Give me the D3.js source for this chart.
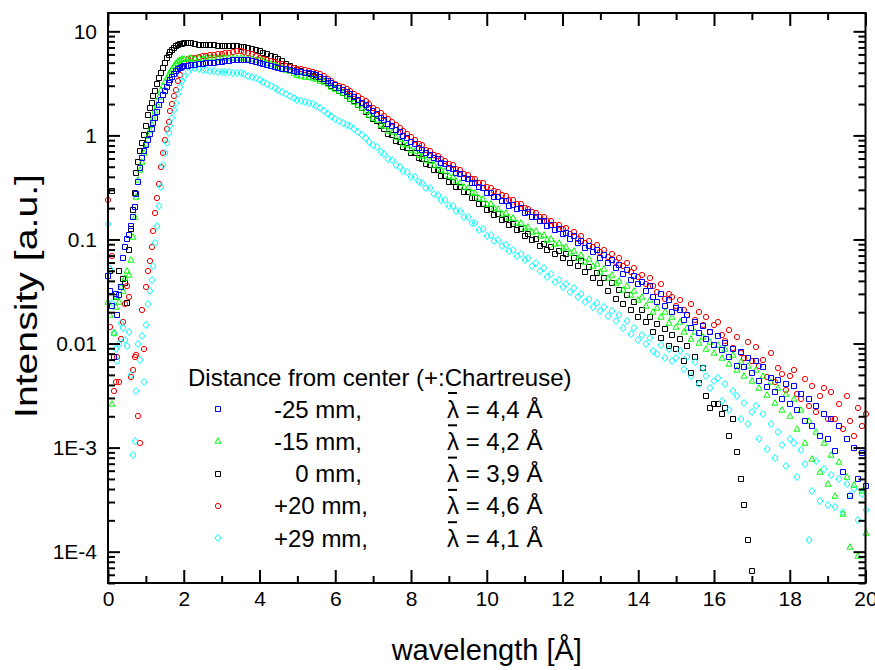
<!DOCTYPE html>
<html>
<head>
<meta charset="utf-8">
<script src="https://cdn.jsdelivr.net/npm/d3@7"></script>
<style>
	body { margin: 0; background: #fff; }
	svg text { font-family: "Liberation Sans", Arial, Helvetica, sans-serif; fill: #000; }
</style>
</head>
<body>
<svg id="chart" width="875" height="670"></svg>
<script>
// wavelength grid [Å] (finer steps below 2 Å)
const wavelength = [
	0,0.05,0.1,0.15,0.2,0.25,0.3,0.35,0.4,0.45,0.5,0.55,0.6,0.65,0.7,0.75,0.8,0.85,0.9,0.95,
	1,1.05,1.1,1.15,1.2,1.25,1.3,1.35,1.4,1.45,1.5,1.55,1.6,1.65,1.7,1.75,1.8,1.85,1.9,1.95,2,
	2.1,2.2,2.3,2.4,2.5,2.6,2.7,2.8,2.9,3,
	3.1,3.2,3.3,3.4,3.5,3.6,3.7,3.8,3.9,4,
	4.1,4.2,4.3,4.4,4.5,4.6,4.7,4.8,4.9,5,
	5.1,5.2,5.3,5.4,5.5,5.6,5.7,5.8,5.9,6,
	6.1,6.2,6.3,6.4,6.5,6.6,6.7,6.8,6.9,7,
	7.1,7.2,7.3,7.4,7.5,7.6,7.7,7.8,7.9,8,
	8.1,8.2,8.3,8.4,8.5,8.6,8.7,8.8,8.9,9,
	9.1,9.2,9.3,9.4,9.5,9.6,9.7,9.8,9.9,10,
	10.1,10.2,10.3,10.4,10.5,10.6,10.7,10.8,10.9,11,
	11.1,11.2,11.3,11.4,11.5,11.6,11.7,11.8,11.9,12,
	12.1,12.2,12.3,12.4,12.5,12.6,12.7,12.8,12.9,13,
	13.1,13.2,13.3,13.4,13.5,13.6,13.7,13.8,13.9,14,
	14.1,14.2,14.3,14.4,14.5,14.6,14.7,14.8,14.9,15,
	15.1,15.2,15.3,15.4,15.5,15.6,15.7,15.8,15.9,16,
	16.1,16.2,16.3,16.4,16.5,16.6,16.7,16.8,16.9,17,
	17.1,17.2,17.3,17.4,17.5,17.6,17.7,17.8,17.9,18,
	18.1,18.2,18.3,18.4,18.5,18.6,18.7,18.8,18.9,19,
	19.1,19.2,19.3,19.4,19.5,19.6,19.7,19.8,19.9,20
];

// intensity [a.u.], one value per wavelength
const intensityM25 = [
	0.045,0.032,0.023,0.0074,0.03,0.0186,0.0295,0.035,0.066,0.085,0.102,0.11,0.135,0.166,0.204,0.275,0.355,0.49,0.6,0.71,
	0.81,0.91,1.02,1.15,1.32,1.48,1.66,1.95,2.19,2.45,2.7,2.95,3.16,3.4,3.63,3.9,4.17,4.37,4.47,4.57,4.62,
	4.68,4.73,4.79,4.84,4.9,4.93,4.97,5.0,5.04,5.07,
	5.13,5.19,5.25,5.31,5.32,5.3,5.25,5.19,5.1,5.01,
	4.9,4.79,4.68,4.57,4.47,4.39,4.3,4.23,4.15,4.07,
	4.03,3.98,3.94,3.87,3.8,3.67,3.51,3.35,3.16,3.02,
	2.88,2.75,2.63,2.48,2.34,2.21,2.07,1.95,1.82,1.7,
	1.6,1.46,1.41,1.28,1.23,1.12,1.07,0.98,0.94,0.86,
	0.83,0.76,0.73,0.67,0.655,0.6,0.59,0.54,0.53,0.485,
	0.475,0.44,0.43,0.39,0.385,0.352,0.345,0.317,0.31,0.282,
	0.28,0.256,0.256,0.234,0.234,0.212,0.216,0.196,0.2,0.18,
	0.182,0.165,0.166,0.15,0.152,0.136,0.139,0.124,0.127,0.113,
	0.116,0.102,0.107,0.093,0.097,0.083,0.087,0.075,0.079,0.067,
	0.071,0.059,0.064,0.053,0.057,0.047,0.051,0.041,0.045,0.037,
	0.039,0.032,0.036,0.028,0.025,0.03,0.023,0.026,0.02,0.022,
	0.021,0.017,0.019,0.014,0.016,0.0125,0.0148,0.011,0.0128,0.0096,
	0.0118,0.0086,0.0102,0.0074,0.0088,0.0061,0.0083,0.0059,0.0073,0.0052,
	0.0068,0.0044,0.0059,0.0038,0.0047,0.0034,0.0045,0.0029,0.0041,0.0026,
	0.0039,0.0023,0.0033,0.0018,0.0029,0.0016,0.0025,0.0013,0.0021,0.0012,
	0.0019,0.00092,0.0016,0.00058,0.0012,0.00034,0.001,0.0005,0.00088,0.00043
];

const intensityM15 = [
	0.025,0.0186,0.0026,0.0126,0.0224,0.028,0.025,0.035,0.032,0.043,0.05,0.046,0.063,0.105,0.166,0.257,0.37,0.47,0.56,0.68,
	0.83,0.98,1.12,1.26,1.48,1.7,1.95,2.34,2.75,3.0,3.27,3.55,3.8,4.07,4.37,4.68,5.0,5.19,5.3,5.37,5.43,
	5.42,5.5,5.44,5.52,5.47,5.55,5.5,5.58,5.52,5.6,
	5.55,5.6,5.57,5.6,5.56,5.5,5.45,5.38,5.3,5.25,
	5.13,5.0,4.9,4.73,4.57,4.42,4.27,4.12,3.98,3.8,
	3.73,3.67,3.61,3.55,3.47,3.35,3.24,3.09,2.95,2.82,
	2.69,2.54,2.4,2.24,2.09,1.95,1.82,1.7,1.58,1.48,
	1.4,1.27,1.22,1.1,1.07,0.96,0.93,0.83,0.81,0.72,
	0.71,0.65,0.64,0.58,0.57,0.52,0.51,0.46,0.45,0.41,
	0.4,0.365,0.352,0.32,0.315,0.282,0.278,0.248,0.245,0.218,
	0.218,0.199,0.197,0.177,0.178,0.161,0.161,0.145,0.145,0.13,
	0.133,0.119,0.121,0.108,0.111,0.098,0.101,0.09,0.092,0.082,
	0.085,0.074,0.078,0.067,0.071,0.061,0.065,0.055,0.058,0.049,
	0.052,0.043,0.046,0.038,0.04,0.033,0.036,0.029,0.032,0.026,
	0.028,0.023,0.026,0.02,0.022,0.018,0.02,0.0158,0.018,0.0145,
	0.016,0.0128,0.0142,0.011,0.0128,0.0102,0.0116,0.0089,0.0104,0.0082,
	0.0097,0.0072,0.0088,0.0063,0.0078,0.0056,0.0067,0.0049,0.0061,0.0044,
	0.0056,0.0037,0.0049,0.0032,0.0043,0.0027,0.0037,0.0023,0.0033,0.002,
	0.0029,0.0015,0.0023,0.0011,0.0018,0.00078,0.0014,0.00058,0.0011,0.00045,
	0.00085,0.00034,0.00072,0.00023,0.00052,0.00011,0.00044,0.00009,0.00038,0.00015
];

const intensity0 = [
	null,0.05,0.295,null,0.028,null,0.05,0.035,0.042,0.038,0.0245,0.079,0.126,0.19,0.28,0.44,0.56,0.71,0.85,1.0,
	1.23,1.58,1.82,2.04,2.4,2.7,3.09,3.55,3.98,4.47,5.0,5.5,5.9,6.3,6.6,6.9,7.16,7.33,7.5,7.62,7.73,
	7.8,7.76,7.59,7.45,7.38,7.35,7.33,7.31,7.28,7.24,
	7.24,7.21,7.19,7.18,7.13,7.05,6.92,6.76,6.61,6.46,
	6.24,6.03,5.82,5.62,5.37,5.13,4.9,4.68,4.47,4.27,
	4.14,4.01,3.89,3.76,3.63,3.47,3.31,3.16,3.0,2.85,
	2.69,2.54,2.4,2.26,2.14,1.98,1.83,1.69,1.56,1.45,
	1.36,1.22,1.16,1.03,1.0,0.89,0.87,0.77,0.76,0.67,
	0.67,0.6,0.59,0.53,0.525,0.47,0.46,0.41,0.405,0.36,
	0.358,0.32,0.318,0.283,0.283,0.25,0.25,0.219,0.22,0.193,
	0.195,0.172,0.175,0.153,0.157,0.137,0.141,0.122,0.126,0.109,
	0.114,0.098,0.101,0.087,0.091,0.079,0.084,0.073,0.078,0.067,
	0.072,0.06,0.067,0.055,0.062,0.049,0.054,0.043,0.048,0.038,
	0.043,0.032,0.038,0.027,0.033,0.024,0.029,0.021,0.025,0.018,
	0.021,0.016,0.018,0.013,0.0155,0.0112,0.0138,0.0095,0.012,0.0088,
	0.011,0.0068,0.0095,0.0052,0.0074,0.0042,0.0058,0.0031,0.0024,0.0026,
	0.0026,0.0021,0.0024,0.0013,0.0019,0.0009,0.0005,0.00028,0.00013,0.000065,
	null,null,null,null,null,null,null,null,null,null,
	null,null,null,null,null,null,null,null,null,null,
	null,null,null,null,null,null,null,null,null,null
];

const intensityP20 = [
	0.24,0.0145,0.07,0.0035,0.0043,0.0075,0.0043,0.011,0.016,0.024,0.036,0.028,0.0048,0.0056,0.0074,0.0078,0.002,0.0011,0.021,0.0089,
	0.035,0.05,0.062,0.085,0.12,0.18,0.25,0.34,0.5,0.68,0.91,1.15,1.35,1.7,2.0,2.4,2.75,3.3,3.8,4.4,5.0,
	5.45,5.55,5.6,5.7,5.8,5.8,5.9,5.95,6.0,6.1,
	6.15,6.25,6.3,6.4,6.4,6.3,6.15,6.0,5.8,5.6,
	5.45,5.3,5.2,5.05,4.9,4.8,4.6,4.5,4.4,4.35,
	4.3,4.25,4.2,4.1,4.0,3.85,3.7,3.5,3.35,3.15,
	3.0,2.9,2.8,2.65,2.5,2.4,2.25,2.15,2.0,1.85,
	1.75,1.65,1.55,1.45,1.35,1.26,1.17,1.1,1.02,0.955,
	0.91,0.83,0.8,0.73,0.71,0.65,0.64,0.59,0.57,0.53,
	0.52,0.48,0.465,0.43,0.415,0.385,0.38,0.35,0.345,0.32,
	0.315,0.29,0.285,0.265,0.26,0.24,0.238,0.22,0.218,0.2,
	0.198,0.182,0.181,0.165,0.166,0.15,0.152,0.137,0.139,0.125,
	0.128,0.112,0.118,0.101,0.108,0.093,0.097,0.084,0.088,0.075,
	0.079,0.068,0.072,0.061,0.066,0.055,0.059,0.049,0.053,0.044,
	0.046,0.037,0.043,0.036,0.031,0.037,0.027,0.03,0.028,0.023,
	0.026,0.021,0.019,0.024,0.017,0.02,0.015,0.018,0.013,0.015,
	0.016,0.012,0.0105,0.0135,0.009,0.0115,0.0082,0.0072,0.0104,0.0068,
	0.0092,0.0061,0.0069,0.0048,0.0081,0.0043,0.0058,0.0051,0.0036,0.0049,
	0.0056,0.0033,0.0029,0.0046,0.0025,0.0039,0.0022,0.0031,0.0037,0.0019,
	0.0034,0.0019,0.0026,0.0015,0.0031,0.0018,0.0013,0.0024,0.0016,0.0021
];

const intensityP29 = [
	0.141,0.052,0.0245,0.0126,0.0089,0.0068,0.01,0.0158,0.0141,0.0107,0.0095,0.0129,0.005,0.00085,0.00115,0.0035,0.01,0.0069,0.0117,0.0043,
	0.015,0.024,0.032,0.041,0.056,0.093,0.135,0.21,0.32,0.52,0.68,0.85,1.05,1.23,1.46,1.74,2.04,2.51,2.95,3.31,3.63,
	4.07,4.42,4.4,4.35,4.29,4.22,4.17,4.13,4.1,4.07,
	4.06,4.04,4.02,4.0,3.96,3.87,3.76,3.65,3.53,3.41,
	3.27,3.14,3.01,2.88,2.75,2.63,2.51,2.4,2.29,2.19,
	2.14,2.09,2.04,2.0,1.91,1.82,1.72,1.62,1.53,1.45,
	1.38,1.32,1.26,1.22,1.16,1.08,1.01,0.94,0.87,0.81,
	0.77,0.69,0.665,0.59,0.575,0.515,0.5,0.452,0.445,0.4,
	0.395,0.355,0.348,0.312,0.31,0.275,0.27,0.24,0.24,0.212,
	0.21,0.187,0.186,0.164,0.164,0.143,0.143,0.124,0.125,0.107,
	0.11,0.096,0.099,0.086,0.089,0.077,0.08,0.069,0.072,0.063,
	0.066,0.056,0.059,0.05,0.053,0.044,0.047,0.039,0.041,0.035,
	0.037,0.031,0.034,0.028,0.03,0.025,0.027,0.0225,0.0245,0.0205,
	0.0225,0.0184,0.0205,0.0163,0.0188,0.0142,0.0163,0.0124,0.0142,0.0108,
	0.0122,0.0098,0.0112,0.0085,0.0079,0.0097,0.0073,0.0088,0.0068,0.0072,
	0.0084,0.0057,0.0074,0.0049,0.0066,0.0041,0.0058,0.0049,0.0037,0.0044,
	0.0047,0.0028,0.0041,0.0023,0.0035,0.0031,0.0019,0.0027,0.0017,0.0022,
	0.0025,0.0012,0.0021,0.00098,0.0017,0.0008,0.0014,0.00105,0.00066,0.0012,
	0.0011,0.00052,0.00095,0.0007,0.00013,0.00038,0.00075,0.00031,0.00062,0.00028,
	0.00055,0.00027,0.0005,0.00024,0.00045,0.00035,0.0004,0.0002,0.00036,0.00025
];

// legend texts
const legendTitle = 'Distance from center (+:Chartreuse)';
const distances = ['-25 mm,', '-15 mm,', '0 mm,', '+20 mm,', '+29 mm,'];
const meanWavelength = ['4,4', '4,2', '3,9', '4,6', '4,1'];

// axis ticks
const xTicks = [0, 2, 4, 6, 8, 10, 12, 14, 16, 18, 20];
const xMinorTicks = [1, 3, 5, 7, 9, 11, 13, 15, 17, 19];
const yTicks = [10, 1, 0.1, 0.01, 1e-3, 1e-4];
const yTickLabels = ['10', '1', '0.1', '0.01', '1E-3', '1E-4'];

const plot = { left: 108, right: 865.5, top: 13, bottom: 583 };

// marker shapes, stroked only
const shapes = {
	square: 'M-2.5,-2.5h5v5h-5Z',
	triangle: 'M0,-3.3L3,2.2H-3Z',
	circle: d3.symbol(d3.symbolCircle, 22)(),
	diamond: 'M0,-3.6L3,0L0,3.6L-3,0Z'
};

// legend order
const series = [
	{ values: intensityM25, color: '#0000ff', shape: 'square' },
	{ values: intensityM15, color: '#00ff00', shape: 'triangle' },
	{ values: intensity0, color: '#000000', shape: 'square' },
	{ values: intensityP20, color: '#ff0000', shape: 'circle' },
	{ values: intensityP29, color: '#00ffff', shape: 'diamond' }
];
series.forEach((s, i) => { s.label = distances[i]; s.mean = meanWavelength[i]; });

// paint order: blue on top
const drawOrder = [2, 3, 4, 1, 0];

const svg = d3.select('#chart');

const x = d3.scaleLinear().domain([0, 20]).range([plot.left, plot.right]);
const y = d3.scaleLog().domain([5e-5, 15]).range([plot.bottom, plot.top]);

// data points
const pts = svg.append('g').attr('class', 'points');
drawOrder.forEach(idx => {
	const s = series[idx];
	const data = wavelength
		.map((w, i) => [w, s.values[i]])
		.filter(d => d[1] != null && d[1] > 0);
	pts.append('g')
		.selectAll('path')
		.data(data)
		.join('path')
		.attr('d', shapes[s.shape])
		.attr('transform', d => `translate(${Math.round(x(d[0]))},${Math.round(y(d[1]))})`)
		.attr('fill', 'none')
		.attr('stroke', s.color)
		.attr('stroke-width', 1);
});

// frame
svg.append('rect')
	.attr('x', plot.left)
	.attr('y', plot.top)
	.attr('width', plot.right - plot.left)
	.attr('height', plot.bottom - plot.top)
	.attr('fill', 'none')
	.attr('stroke', '#000')
	.attr('stroke-width', 2);

const yMinor = y.ticks().filter(v => !yTicks.some(t => Math.abs(t - v) / t < 1e-6));

function styleAxis(g) {
	g.select('.domain').remove();
	g.selectAll('.tick line').attr('stroke', '#000').attr('stroke-width', 2);
	g.selectAll('.tick text').attr('font-size', 21).attr('fill', '#000');
}

// bottom
svg.append('g')
	.attr('transform', `translate(0,${plot.bottom})`)
	.call(d3.axisBottom(x).tickValues(xTicks).tickSize(-13).tickPadding(8).tickFormat(d3.format('d')))
	.call(styleAxis);
svg.append('g')
	.attr('transform', `translate(0,${plot.bottom})`)
	.call(d3.axisBottom(x).tickValues(xMinorTicks).tickSize(-7).tickFormat(''))
	.call(styleAxis);
// top
svg.append('g')
	.attr('transform', `translate(0,${plot.top})`)
	.call(d3.axisTop(x).tickValues(xTicks).tickSize(-13).tickFormat(''))
	.call(styleAxis);
svg.append('g')
	.attr('transform', `translate(0,${plot.top})`)
	.call(d3.axisTop(x).tickValues(xMinorTicks).tickSize(-7).tickFormat(''))
	.call(styleAxis);
// left
svg.append('g')
	.attr('transform', `translate(${plot.left},0)`)
	.call(d3.axisLeft(y).tickValues(yTicks).tickSize(-12).tickPadding(11).tickFormat((d, i) => yTickLabels[i]))
	.call(styleAxis);
svg.append('g')
	.attr('transform', `translate(${plot.left},0)`)
	.call(d3.axisLeft(y).tickValues(yMinor).tickSize(-7).tickFormat(''))
	.call(styleAxis);
// right
svg.append('g')
	.attr('transform', `translate(${plot.right},0)`)
	.call(d3.axisRight(y).tickValues(yTicks).tickSize(-12).tickFormat(''))
	.call(styleAxis);
svg.append('g')
	.attr('transform', `translate(${plot.right},0)`)
	.call(d3.axisRight(y).tickValues(yMinor).tickSize(-7).tickFormat(''))
	.call(styleAxis);

// axis titles
svg.append('text')
	.attr('x', (plot.left + plot.right) / 2)
	.attr('y', 660)
	.attr('text-anchor', 'middle')
	.attr('font-size', 29)
	.text('wavelength [Å]');

svg.append('text')
	.attr('transform', 'translate(37,296) rotate(-90)')
	.attr('text-anchor', 'middle')
	.attr('font-size', 31)
	.attr('textLength', 244)
	.attr('lengthAdjust', 'spacingAndGlyphs')
	.text('Intensity [a.u.]');

// legend
const legend = svg.append('g').attr('class', 'legend');
legend.append('text')
	.attr('x', 188)
	.attr('y', 386)
	.attr('font-size', 24)
	.text(legendTitle);

// width of "-2" so that an unsigned label lines up with the digits above
const probe = legend.append('text').attr('font-size', 24).text('-2');
const signWidth = probe.node().getComputedTextLength();
probe.remove();

series.forEach((s, i) => {
	const cy = 409 + i * 32.3;
	const row = legend.append('g');
	row.append('path')
		.attr('d', shapes[s.shape])
		.attr('transform', `translate(218,${Math.round(cy)})`)
		.attr('fill', 'none')
		.attr('stroke', s.color)
		.attr('stroke-width', 1);
	row.append('text')
		.attr('x', /^\d/.test(s.label) ? 274 + signWidth : 274)
		.attr('y', cy + 8.5)
		.attr('font-size', 24)
		.text(s.label);
	row.append('text')
		.attr('x', 447)
		.attr('y', cy + 8.5)
		.attr('font-size', 24)
		.text(`λ = ${s.mean} Å`);
	// bar over lambda
	row.append('line')
		.attr('x1', 448)
		.attr('x2', 457)
		.attr('y1', cy - 16)
		.attr('y2', cy - 16)
		.attr('stroke', '#000')
		.attr('stroke-width', 2);
});
</script>
</body>
</html>
